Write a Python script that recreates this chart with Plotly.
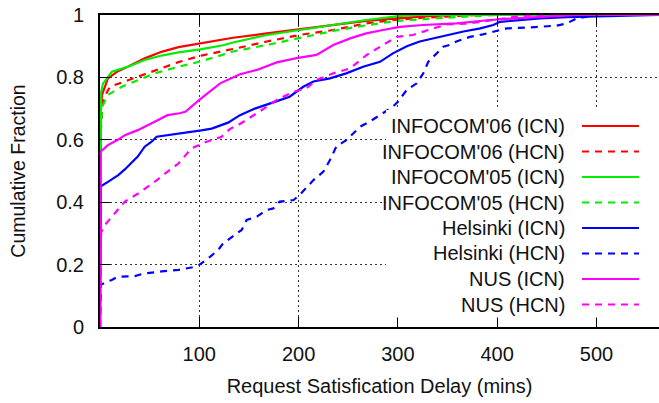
import plotly.graph_objects as go

# ---------------- data ----------------
inf06_icn_x = [0, 0.3, 1, 2, 8, 18, 28, 45, 62, 79, 100, 124, 134, 168, 201, 235, 268, 302, 330, 360, 563]
inf06_icn_y = [0, 0.62, 0.70, 0.744, 0.797, 0.82, 0.834, 0.861, 0.882, 0.897, 0.908, 0.922, 0.927, 0.941, 0.954, 0.968, 0.981, 0.99, 0.996, 1.0, 1.0]

inf06_hcn_x = [0, 0.5, 2, 3.3, 10, 25, 42, 62, 79, 102, 124, 134, 168, 201, 235, 268, 295, 330, 380, 563]
inf06_hcn_y = [0, 0.6, 0.70, 0.73, 0.77, 0.787, 0.808, 0.829, 0.849, 0.87, 0.883, 0.891, 0.915, 0.936, 0.952, 0.973, 0.984, 0.992, 1.0, 1.0]

inf05_icn_x = [0, 0.3, 1, 3, 12, 28, 45, 62, 79, 101, 124, 134, 168, 201, 235, 268, 302, 320, 563]
inf05_icn_y = [0, 0.70, 0.75, 0.78, 0.818, 0.834, 0.856, 0.87, 0.88, 0.89, 0.903, 0.912, 0.936, 0.952, 0.968, 0.984, 0.997, 1.0, 1.0]

inf05_hcn_x = [0, 0.5, 2, 8, 22, 38, 55, 79, 101, 124, 134, 168, 201, 235, 268, 299, 340, 400, 563]
inf05_hcn_y = [0, 0.6, 0.705, 0.744, 0.77, 0.79, 0.813, 0.834, 0.851, 0.873, 0.883, 0.904, 0.925, 0.949, 0.967, 0.981, 0.99, 1.0, 1.0]

hel_icn_x = [0, 0.5, 8.4, 18.4, 25, 38, 45, 52, 57, 68.8, 89, 102, 112.5, 124, 129, 141, 156, 174.5, 191, 204.7,
             215, 231.6, 248, 265, 282, 295, 309, 322, 336, 349, 366, 383, 396, 403, 426, 443, 470, 510, 540, 563]
hel_icn_y = [0, 0.45, 0.466, 0.487, 0.505, 0.546, 0.578, 0.594, 0.61, 0.615, 0.624, 0.63, 0.636, 0.65, 0.655, 0.679,
             0.70, 0.72, 0.738, 0.77, 0.787, 0.797, 0.813, 0.834, 0.85, 0.877, 0.9, 0.915, 0.925, 0.936, 0.947, 0.957,
             0.968, 0.978, 0.984, 0.989, 0.993, 0.996, 1.0, 1.0]

hel_hcn_x = [0, 0.5, 11.8, 18, 35, 45, 62, 79, 96, 100, 110.8, 119, 124, 134, 142.7, 147.7, 158, 168, 174.5, 181,
             195, 201, 215, 225, 231.6, 238, 248, 255, 262, 272, 282, 295, 300, 309, 319, 325.6, 330.6, 339, 345.7,
             352, 359, 372.6, 385.7, 409.5, 433, 460, 470, 480, 500, 563]
hel_hcn_y = [0, 0.135, 0.151, 0.161, 0.163, 0.172, 0.178, 0.183, 0.193, 0.199, 0.225, 0.247, 0.268, 0.29, 0.311,
             0.343, 0.354, 0.375, 0.38, 0.402, 0.407, 0.423, 0.471, 0.498, 0.535, 0.578, 0.599, 0.62, 0.642, 0.659,
             0.679, 0.706, 0.722, 0.76, 0.781, 0.813, 0.85, 0.876, 0.898, 0.904, 0.915, 0.93, 0.938, 0.957, 0.96,
             0.966, 0.973, 0.989, 1.0, 1.0]

nus_icn_x = [0, 0.5, 8, 18, 25, 38, 55, 68, 80, 86, 100, 121, 141, 158, 178, 198, 218, 235, 252, 268, 285, 302,
             325, 359, 393, 426, 480, 563]
nus_icn_y = [0, 0.562, 0.583, 0.60, 0.615, 0.631, 0.658, 0.679, 0.685, 0.69, 0.728, 0.781, 0.81, 0.824, 0.848,
             0.862, 0.872, 0.904, 0.925, 0.941, 0.952, 0.962, 0.968, 0.973, 0.984, 0.991, 1.0, 1.0]

nus_hcn_x = [0, 1, 3.3, 15, 25, 38.5, 48.7, 57, 65.5, 79, 92, 101, 106, 122.5, 131, 139, 153, 158, 168, 178, 195,
             208, 218, 235, 252, 258.5, 268.6, 285, 299, 315, 332, 349, 372, 396, 420, 440, 563]
nus_hcn_y = [0, 0.30, 0.321, 0.364, 0.402, 0.428, 0.45, 0.47, 0.492, 0.524, 0.572, 0.585, 0.592, 0.61, 0.635,
             0.647, 0.674, 0.685, 0.706, 0.728, 0.754, 0.765, 0.792, 0.813, 0.829, 0.845, 0.872, 0.904, 0.93,
             0.936, 0.952, 0.97, 0.973, 0.984, 0.995, 1.0, 1.0]

series_names = ["INFOCOM'06 (ICN)", "INFOCOM'06 (HCN)", "INFOCOM'05 (ICN)", "INFOCOM'05 (HCN)",
                "Helsinki (ICN)", "Helsinki (HCN)", "NUS (ICN)", "NUS (HCN)"]
series_x = [inf06_icn_x, inf06_hcn_x, inf05_icn_x, inf05_hcn_x, hel_icn_x, hel_hcn_x, nus_icn_x, nus_hcn_x]
series_y = [inf06_icn_y, inf06_hcn_y, inf05_icn_y, inf05_hcn_y, hel_icn_y, hel_hcn_y, nus_icn_y, nus_hcn_y]

x_tick_vals = [100, 200, 300, 400, 500]
y_tick_vals = [0, 0.2, 0.4, 0.6, 0.8, 1]
y_tick_text = ["0", "0.2", "0.4", "0.6", "0.8", "1"]

# ---------------- styles ----------------
colors = ["#ff0000", "#ff0000", "#00ee00", "#00ee00", "#0000ff", "#0000ff", "#ff00ff", "#ff00ff"]
dashes = ["solid", "7px,6px"] * 4
FONT = "Liberation Sans, Arial, Helvetica, sans-serif"
W, H = 659, 403
ML, MR, MT, MB = 100, 0, 15, 76
PW, PH = W - ML - MR, H - MT - MB

fig = go.Figure()
for name, xs, ys, c, d in zip(series_names, series_x, series_y, colors, dashes):
    fig.add_trace(go.Scatter(x=xs, y=ys, mode="lines", name=name,
                             line=dict(color=c, width=2.2, dash=d), showlegend=False))

# legend (gnuplot style: right-aligned text, sample to the right, opaque box)
def px_x(p):
    return (p - ML) / PW

def px_y(p):
    return (H - MB - p) / PH

shapes = [dict(type="rect", xref="paper", yref="paper", x0=px_x(386), x1=1.0, y0=px_y(317.5), y1=px_y(110),
               fillcolor="white", line=dict(width=0), layer="above")]
annotations = []
row_y = [126, 151.5, 177, 202.5, 228, 253.5, 279, 304.5]
for name, c, d, ry in zip(series_names, colors, dashes, row_y):
    annotations.append(dict(xref="paper", yref="paper", x=px_x(567), y=px_y(ry), text=name, showarrow=False,
                            xanchor="right", yanchor="middle", font=dict(family=FONT, size=20, color="#111")))
    shapes.append(dict(type="line", xref="paper", yref="paper", x0=px_x(582), x1=px_x(639),
                       y0=px_y(ry), y1=px_y(ry), line=dict(color=c, width=2, dash=d), layer="above"))

fig.update_layout(
    width=W, height=H, margin=dict(l=ML, r=MR, t=MT, b=MB),
    paper_bgcolor="white", plot_bgcolor="white",
    font=dict(family=FONT, size=19, color="#111"),
    shapes=shapes, annotations=annotations, showlegend=False,
)
fig.update_xaxes(range=[0, 563], tickvals=x_tick_vals, ticks="inside", ticklen=10, tickcolor="black",
                 showline=True, linecolor="black", linewidth=2, mirror="ticks",
                 showgrid=True, gridcolor="#333", griddash="2px,3px", gridwidth=1, zeroline=False,
                 title=dict(text="Request Satisfication Delay (mins)", standoff=15,
                            font=dict(family=FONT, size=20, color="#111")),
                 tickfont=dict(family=FONT, size=20, color="#111"), ticklabelstandoff=8)
fig.update_yaxes(range=[0, 1], tickvals=y_tick_vals, ticktext=y_tick_text, ticks="inside", ticklen=10,
                 tickcolor="black", showline=True, linecolor="black", linewidth=2, mirror=False,
                 showgrid=True, gridcolor="#333", griddash="2px,3px", gridwidth=1, zeroline=False,
                 title=dict(text="Cumulative Fraction", standoff=25,
                            font=dict(family=FONT, size=19.5, color="#111")),
                 tickfont=dict(family=FONT, size=20, color="#111"), ticklabelstandoff=10)

fig.write_html("out.html")
